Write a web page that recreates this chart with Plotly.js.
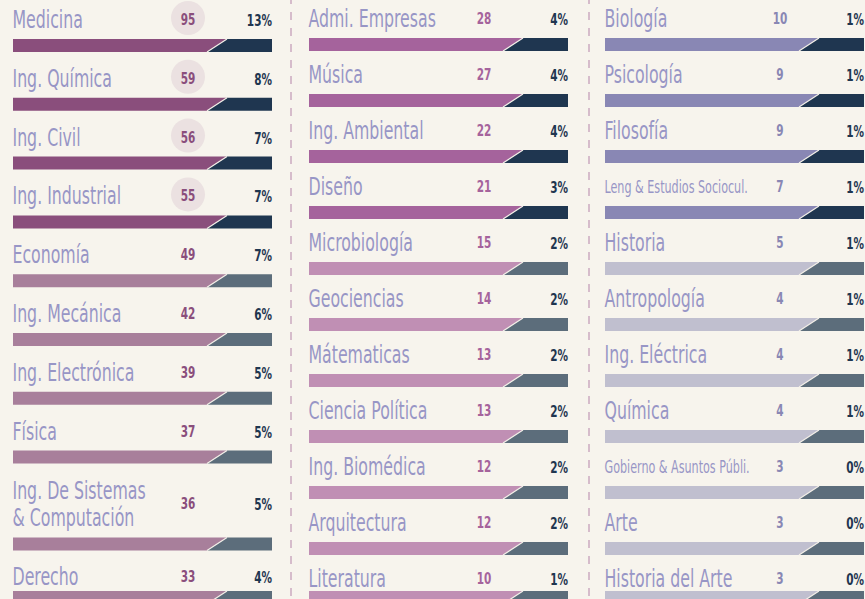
<!DOCTYPE html>
<html>
<head>
<meta charset="utf-8">
<script src="https://cdn.plot.ly/plotly-3.0.1.min.js"></script>
<style>html,body{margin:0;padding:0;background:#f7f4ed;}#chart{width:865px;height:599px;}</style>
</head>
<body>
<div id="chart"></div>
<script>
// ---------- DATA ----------
const col1Names = ["Medicina","Ing. Química","Ing. Civil","Ing. Industrial","Economía","Ing. Mecánica","Ing. Electrónica","Física","Ing. De Sistemas<br>& Computación","Derecho"];
const col1Counts = [95,59,56,55,49,42,39,37,36,33];
const col1Pct = [13,8,7,7,7,6,5,5,5,4];

const col2Names = ["Admi. Empresas","Música","Ing. Ambiental","Diseño","Microbiología","Geociencias","Mátematicas","Ciencia Política","Ing. Biomédica","Arquitectura","Literatura"];
const col2Counts = [28,27,22,21,15,14,13,13,12,12,10];
const col2Pct = [4,4,4,3,2,2,2,2,2,2,1];

const col3Names = ["Biología","Psicología","Filosofía","Leng & Estudios Sociocul.","Historia","Antropología","Ing. Eléctrica","Química","Gobierno & Asuntos Públi.","Arte","Historia del Arte"];
const col3Counts = [10,9,9,7,5,4,4,4,3,3,3];
const col3Pct = [1,1,1,1,1,1,1,1,0,0,0];

// ---------- LAYOUT / STYLE ----------
const W = 865, H = 599;
const FONT = "'DejaVu Sans Condensed', 'Liberation Sans Narrow', sans-serif";
const DARK = "#1f3650", GREYDARK = "#5c6d7b";
const cols = [
  {names:col1Names, counts:col1Counts, pct:col1Pct, left:13, y0:20, pitch:58.8,
   hi:"#8a4e7c", lo:"#a87f9b", numColor:"#8a4e7c"},
  {names:col2Names, counts:col2Counts, pct:col2Pct, left:309, y0:19, pitch:56,
   hi:"#a5639c", lo:"#c08fb4", numColor:"#a5639c"},
  {names:col3Names, counts:col3Counts, pct:col3Pct, left:605, y0:19, pitch:56,
   hi:"#8987b4", lo:"#c0bfcf", numColor:"#8987b4"}
];
const BAR_LEN = 259, SPLIT_B = 194, SPLIT_T = 214, BAR_H = 13, LINE_H = 28, NHIGH = 4;
const SCALE_X = 0.73;

const traces = [];
const shapes = [];

cols.forEach(c => {
  const polys = {hiC:{x:[],y:[]}, loC:{x:[],y:[]}, hiD:{x:[],y:[]}, loD:{x:[],y:[]}, diag:{x:[],y:[]}};
  const lab = {x:[],y:[],t:[],s:[]};
  const num = {x:[],y:[],t:[]};
  const pc = {x:[],y:[],t:[]};
  const circ = {x:[],y:[]};
  let extra = 0;
  c.names.forEach((n,i) => {
    const parts = n.split("<br>");
    const lines = parts.length;
    const ex = lines - 1;
    const yc = c.y0 + c.pitch*i + LINE_H*extra + LINE_H/2*ex;
    extra += ex;
    const top = Math.min(yc + 19 + LINE_H/2*ex, 591);
    const bot = top + BAR_H;
    const L = c.left, R = c.left + BAR_LEN, sb = L + SPLIT_B, st = L + SPLIT_T;
    const hi = i < NHIGH;
    const pC = hi ? polys.hiC : polys.loC;
    const pD = hi ? polys.hiD : polys.loD;
    pC.x.push(L, st, sb, L, L, null); pC.y.push(top, top, bot, bot, top, null);
    pD.x.push(st, R, R, sb, st, null); pD.y.push(top, top, bot, bot, top, null);
    polys.diag.x.push(st, sb, null); polys.diag.y.push(top, bot, null);
    parts.forEach((p, j) => {
      lab.x.push(L - 0.5);
      lab.y.push(yc + 2 + (j - ex/2) * 27);
      lab.t.push(p);
      lab.s.push((lines === 1 && p.length > 20) ? 17 : 24);
    });
    num.x.push(L + 175); num.y.push(yc + 1); num.t.push(String(c.counts[i]));
    pc.x.push(R); pc.y.push(yc + 2); pc.t.push(c.pct[i] + "%");
    if (c.counts[i] >= 50) { circ.x.push(L + 175); circ.y.push(yc - 2); }
  });
  const poly = (p, color) => ({type:"scatter", mode:"lines", x:p.x, y:p.y, fill:"toself",
    fillcolor:color, line:{width:0, color:color}, hoverinfo:"skip", showlegend:false});
  traces.push(poly(polys.hiC, c.hi), poly(polys.loC, c.lo), poly(polys.hiD, DARK), poly(polys.loD, GREYDARK));
  traces.push({type:"scatter", mode:"lines", x:polys.diag.x, y:polys.diag.y,
    line:{color:"#f3efe8", width:1.2}, hoverinfo:"skip", showlegend:false});
  traces.push({type:"scatter", mode:"markers", x:circ.x, y:circ.y,
    marker:{size:34, color:"#ebe1e1"}, hoverinfo:"skip", showlegend:false});
  traces.push({type:"scatter", mode:"text", x:lab.x, y:lab.y, text:lab.t, textposition:"middle right",
    textfont:{family:FONT, size:lab.s, color:"#9896c6"}, hoverinfo:"skip", showlegend:false});
  traces.push({type:"scatter", mode:"text", x:num.x, y:num.y, text:num.t, textposition:"middle center",
    textfont:{family:FONT, size:16, color:c.numColor, weight:"bold"}, hoverinfo:"skip", showlegend:false});
  traces.push({type:"scatter", mode:"text", x:pc.x, y:pc.y, text:pc.t, textposition:"middle left",
    textfont:{family:FONT, size:16, color:DARK, weight:"bold"}, hoverinfo:"skip", showlegend:false});
});

[291, 589].forEach(x => shapes.push({type:"line", xref:"x", yref:"y", x0:x, x1:x, y0:-4, y1:H,
  line:{color:"#d6bccb", width:2, dash:"8px,8px"}, layer:"below"}));

const layout = {
  width: W, height: H,
  margin: {l:0, r:0, t:0, b:0},
  paper_bgcolor: "#f7f4ed", plot_bgcolor: "#f7f4ed",
  xaxis: {range:[0, W], visible:false, fixedrange:true},
  yaxis: {range:[H, 0], visible:false, fixedrange:true},
  shapes: shapes,
  showlegend: false
};
Plotly.newPlot("chart", traces, layout, {displayModeBar:false, staticPlot:true}).then(() => {
  // condense glyphs horizontally around each text's anchor point (reference uses a condensed face)
  document.querySelectorAll("#chart .textpoint text").forEach(t => {
    const x = parseFloat(t.getAttribute("x")) || 0;
    const y = parseFloat(t.getAttribute("y")) || 0;
    const prev = t.getAttribute("transform") || "";
    t.setAttribute("transform", prev + ` translate(${x},${y}) scale(${SCALE_X},1) translate(${-x},${-y})`);
  });
});
</script>
</body>
</html>
